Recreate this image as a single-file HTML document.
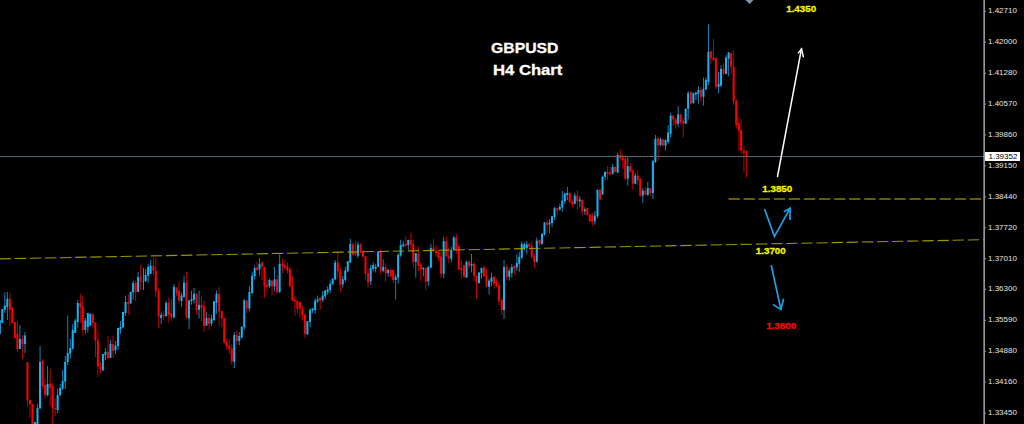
<!DOCTYPE html>
<html><head><meta charset="utf-8"><title>GBPUSD H4 Chart</title>
<style>
html,body{margin:0;padding:0;background:#000;}
body{width:1024px;height:424px;overflow:hidden;position:relative;font-family:"Liberation Sans",sans-serif;}
svg{position:absolute;left:0;top:0;}
.t{position:absolute;white-space:nowrap;line-height:1;}
.ax{font-size:8px;color:#e4e4e4;left:988px;}
.an{font-size:9.8px;font-weight:bold;-webkit-text-stroke:0.3px currentColor;}
.ttl{font-size:15px;font-weight:bold;color:#fff;transform-origin:0 0;-webkit-text-stroke:0.3px #fff;}
</style></head><body>
<svg width="1024" height="424" viewBox="0 0 1024 424">
<line x1="728.5" y1="199" x2="984" y2="199" stroke="#877d00" stroke-width="1.5" stroke-dasharray="11.3 3.78"/>
<g shape-rendering="auto">
<rect x="-0.65" y="320.0" width="0.9" height="14.0" fill="#1390c8"/><rect x="-1.25" y="320.0" width="2" height="14.0" fill="#16b2f4"/>
<rect x="1.87" y="309.0" width="0.9" height="14.0" fill="#1390c8"/><rect x="1.27" y="309.0" width="2" height="14.0" fill="#16b2f4"/>
<rect x="4.38" y="292.5" width="0.9" height="20.5" fill="#1390c8"/><rect x="3.78" y="305.6" width="2" height="4.4" fill="#16b2f4"/>
<rect x="6.90" y="292.0" width="0.9" height="28.0" fill="#1390c8"/><rect x="6.30" y="298.8" width="2" height="8.2" fill="#16b2f4"/>
<rect x="9.41" y="293.0" width="0.9" height="33.0" fill="#d00000"/><rect x="8.81" y="298.8" width="2" height="11.2" fill="#ff0000"/>
<rect x="11.93" y="307.0" width="0.9" height="16.0" fill="#d00000"/><rect x="11.33" y="308.0" width="2" height="15.0" fill="#ff0000"/>
<rect x="14.45" y="322.0" width="0.9" height="16.0" fill="#d00000"/><rect x="13.85" y="322.0" width="2" height="16.0" fill="#ff0000"/>
<rect x="16.96" y="321.0" width="0.9" height="31.0" fill="#d00000"/><rect x="16.36" y="334.0" width="2" height="15.0" fill="#ff0000"/>
<rect x="19.48" y="325.0" width="0.9" height="24.0" fill="#1390c8"/><rect x="18.88" y="339.0" width="2" height="10.0" fill="#16b2f4"/>
<rect x="21.99" y="335.0" width="0.9" height="24.0" fill="#d00000"/><rect x="21.39" y="339.0" width="2" height="5.0" fill="#ff0000"/>
<rect x="24.51" y="332.0" width="0.9" height="21.0" fill="#1390c8"/><rect x="23.91" y="335.5" width="2" height="8.5" fill="#16b2f4"/>
<rect x="27.03" y="362.0" width="0.9" height="44.0" fill="#d00000"/><rect x="26.43" y="362.0" width="2" height="38.4" fill="#ff0000"/>
<rect x="29.54" y="400.0" width="0.9" height="18.0" fill="#d00000"/><rect x="28.94" y="400.0" width="2" height="4.0" fill="#ff0000"/>
<rect x="32.06" y="404.0" width="0.9" height="22.0" fill="#d00000"/><rect x="31.46" y="404.0" width="2" height="22.0" fill="#ff0000"/>
<rect x="34.57" y="422.0" width="0.9" height="4.0" fill="#1390c8"/><rect x="33.97" y="422.0" width="2" height="4.0" fill="#16b2f4"/>
<rect x="37.09" y="404.0" width="0.9" height="22.0" fill="#1390c8"/><rect x="36.49" y="408.0" width="2" height="18.0" fill="#16b2f4"/>
<rect x="39.61" y="346.0" width="0.9" height="62.5" fill="#1390c8"/><rect x="39.01" y="362.0" width="2" height="46.5" fill="#16b2f4"/>
<rect x="42.12" y="359.0" width="0.9" height="29.5" fill="#d00000"/><rect x="41.52" y="361.0" width="2" height="25.0" fill="#ff0000"/>
<rect x="44.64" y="378.5" width="0.9" height="20.0" fill="#d00000"/><rect x="44.04" y="385.0" width="2" height="10.0" fill="#ff0000"/>
<rect x="47.15" y="366.0" width="0.9" height="30.6" fill="#1390c8"/><rect x="46.55" y="384.0" width="2" height="11.0" fill="#16b2f4"/>
<rect x="49.67" y="368.6" width="0.9" height="37.4" fill="#d00000"/><rect x="49.07" y="383.5" width="2" height="4.5" fill="#ff0000"/>
<rect x="52.19" y="383.0" width="0.9" height="43.0" fill="#d00000"/><rect x="51.59" y="386.6" width="2" height="21.4" fill="#ff0000"/>
<rect x="54.70" y="399.0" width="0.9" height="17.0" fill="#d00000"/><rect x="54.10" y="408.0" width="2" height="1.0" fill="#ff0000"/>
<rect x="57.22" y="388.5" width="0.9" height="24.5" fill="#1390c8"/><rect x="56.62" y="395.0" width="2" height="15.0" fill="#16b2f4"/>
<rect x="59.73" y="384.0" width="0.9" height="12.0" fill="#1390c8"/><rect x="59.13" y="388.0" width="2" height="7.0" fill="#16b2f4"/>
<rect x="62.25" y="370.0" width="0.9" height="20.0" fill="#1390c8"/><rect x="61.65" y="381.0" width="2" height="7.5" fill="#16b2f4"/>
<rect x="64.77" y="356.0" width="0.9" height="33.0" fill="#1390c8"/><rect x="64.17" y="362.0" width="2" height="19.6" fill="#16b2f4"/>
<rect x="67.28" y="315.6" width="0.9" height="49.4" fill="#1390c8"/><rect x="66.68" y="353.0" width="2" height="9.0" fill="#16b2f4"/>
<rect x="69.80" y="338.6" width="0.9" height="20.0" fill="#1390c8"/><rect x="69.20" y="348.0" width="2" height="5.6" fill="#16b2f4"/>
<rect x="72.31" y="324.0" width="0.9" height="26.0" fill="#1390c8"/><rect x="71.71" y="330.0" width="2" height="18.6" fill="#16b2f4"/>
<rect x="74.83" y="318.8" width="0.9" height="14.2" fill="#1390c8"/><rect x="74.23" y="320.6" width="2" height="12.4" fill="#16b2f4"/>
<rect x="77.35" y="300.0" width="0.9" height="27.5" fill="#1390c8"/><rect x="76.75" y="303.0" width="2" height="19.0" fill="#16b2f4"/>
<rect x="79.86" y="293.8" width="0.9" height="29.2" fill="#d00000"/><rect x="79.26" y="303.0" width="2" height="4.0" fill="#ff0000"/>
<rect x="82.38" y="296.0" width="0.9" height="39.5" fill="#d00000"/><rect x="81.78" y="306.0" width="2" height="24.0" fill="#ff0000"/>
<rect x="84.89" y="318.0" width="0.9" height="16.0" fill="#1390c8"/><rect x="84.29" y="320.6" width="2" height="9.4" fill="#16b2f4"/>
<rect x="87.41" y="313.0" width="0.9" height="19.5" fill="#1390c8"/><rect x="86.81" y="313.0" width="2" height="14.0" fill="#16b2f4"/>
<rect x="89.93" y="313.8" width="0.9" height="11.8" fill="#1390c8"/><rect x="89.33" y="313.8" width="2" height="11.8" fill="#16b2f4"/>
<rect x="92.44" y="313.8" width="0.9" height="13.7" fill="#d00000"/><rect x="91.84" y="313.8" width="2" height="9.2" fill="#ff0000"/>
<rect x="94.96" y="322.5" width="0.9" height="34.5" fill="#d00000"/><rect x="94.36" y="322.5" width="2" height="18.0" fill="#ff0000"/>
<rect x="97.47" y="330.6" width="0.9" height="46.4" fill="#d00000"/><rect x="96.87" y="340.5" width="2" height="26.3" fill="#ff0000"/>
<rect x="99.99" y="362.0" width="0.9" height="11.6" fill="#d00000"/><rect x="99.39" y="366.8" width="2" height="2.2" fill="#ff0000"/>
<rect x="102.51" y="354.0" width="0.9" height="16.5" fill="#1390c8"/><rect x="101.91" y="354.0" width="2" height="16.5" fill="#16b2f4"/>
<rect x="105.02" y="348.0" width="0.9" height="12.0" fill="#1390c8"/><rect x="104.42" y="351.8" width="2" height="3.2" fill="#16b2f4"/>
<rect x="107.54" y="336.0" width="0.9" height="22.6" fill="#d00000"/><rect x="106.94" y="351.8" width="2" height="6.8" fill="#ff0000"/>
<rect x="110.05" y="340.0" width="0.9" height="18.0" fill="#1390c8"/><rect x="109.45" y="344.0" width="2" height="14.0" fill="#16b2f4"/>
<rect x="112.57" y="336.0" width="0.9" height="22.0" fill="#d00000"/><rect x="111.97" y="344.0" width="2" height="7.0" fill="#ff0000"/>
<rect x="115.09" y="341.0" width="0.9" height="13.0" fill="#1390c8"/><rect x="114.49" y="345.5" width="2" height="5.0" fill="#16b2f4"/>
<rect x="117.60" y="328.0" width="0.9" height="22.0" fill="#1390c8"/><rect x="117.00" y="328.0" width="2" height="18.0" fill="#16b2f4"/>
<rect x="120.12" y="321.0" width="0.9" height="13.0" fill="#1390c8"/><rect x="119.52" y="327.0" width="2" height="2.4" fill="#16b2f4"/>
<rect x="122.63" y="312.0" width="0.9" height="15.5" fill="#1390c8"/><rect x="122.03" y="312.0" width="2" height="15.5" fill="#16b2f4"/>
<rect x="125.15" y="295.6" width="0.9" height="20.4" fill="#1390c8"/><rect x="124.55" y="302.0" width="2" height="11.0" fill="#16b2f4"/>
<rect x="127.85" y="294.4" width="0.9" height="20.4" fill="#d00000"/><rect x="127.25" y="302.0" width="2" height="2.0" fill="#ff0000"/>
<rect x="130.22" y="291.9" width="0.9" height="11.6" fill="#1390c8"/><rect x="129.62" y="291.9" width="2" height="11.6" fill="#16b2f4"/>
<rect x="132.72" y="280.6" width="0.9" height="18.9" fill="#1390c8"/><rect x="132.12" y="283.1" width="2" height="9.4" fill="#16b2f4"/>
<rect x="135.22" y="280.6" width="0.9" height="21.0" fill="#d00000"/><rect x="134.62" y="283.1" width="2" height="8.8" fill="#ff0000"/>
<rect x="137.72" y="271.9" width="0.9" height="20.0" fill="#1390c8"/><rect x="137.12" y="276.9" width="2" height="15.0" fill="#16b2f4"/>
<rect x="140.22" y="265.0" width="0.9" height="25.0" fill="#d00000"/><rect x="139.62" y="276.9" width="2" height="4.4" fill="#ff0000"/>
<rect x="143" y="268.1" width="1" height="21.9" fill="#00c400"/><rect x="142.12" y="281.0" width="2" height="0.8" fill="#00c800"/>
<rect x="145.22" y="268.8" width="0.9" height="13.1" fill="#1390c8"/><rect x="144.62" y="275.0" width="2" height="6.2" fill="#16b2f4"/>
<rect x="147.72" y="263.8" width="0.9" height="18.8" fill="#1390c8"/><rect x="147.12" y="266.9" width="2" height="8.8" fill="#16b2f4"/>
<rect x="150.22" y="260.0" width="0.9" height="13.8" fill="#1390c8"/><rect x="149.62" y="265.6" width="2" height="8.1" fill="#16b2f4"/>
<rect x="152.97" y="257.5" width="0.9" height="17.5" fill="#d00000"/><rect x="152.38" y="265.6" width="2" height="5.0" fill="#ff0000"/>
<rect x="155.35" y="257.5" width="0.9" height="39.4" fill="#d00000"/><rect x="154.75" y="270.6" width="2" height="20.6" fill="#ff0000"/>
<rect x="158.22" y="288.1" width="0.9" height="39.8" fill="#d00000"/><rect x="157.62" y="290.6" width="2" height="26.0" fill="#ff0000"/>
<rect x="160.72" y="311.6" width="0.9" height="12.5" fill="#1390c8"/><rect x="160.12" y="314.8" width="2" height="3.1" fill="#16b2f4"/>
<rect x="163.22" y="311.0" width="0.9" height="8.8" fill="#d00000"/><rect x="162.62" y="314.8" width="2" height="1.2" fill="#ff0000"/>
<rect x="165.72" y="301.0" width="0.9" height="16.2" fill="#1390c8"/><rect x="165.12" y="302.9" width="2" height="13.1" fill="#16b2f4"/>
<rect x="168.35" y="297.2" width="0.9" height="25.6" fill="#d00000"/><rect x="167.75" y="302.9" width="2" height="11.9" fill="#ff0000"/>
<rect x="170.85" y="299.1" width="0.9" height="21.9" fill="#d00000"/><rect x="170.25" y="313.5" width="2" height="3.8" fill="#ff0000"/>
<rect x="173.47" y="283.8" width="0.9" height="34.8" fill="#1390c8"/><rect x="172.88" y="286.9" width="2" height="30.4" fill="#16b2f4"/>
<rect x="176.10" y="287.5" width="0.9" height="8.1" fill="#d00000"/><rect x="175.50" y="287.5" width="2" height="5.0" fill="#ff0000"/>
<rect x="178.60" y="281.9" width="0.9" height="21.6" fill="#d00000"/><rect x="178.00" y="291.2" width="2" height="9.1" fill="#ff0000"/>
<rect x="181.10" y="293.1" width="0.9" height="13.5" fill="#1390c8"/><rect x="180.50" y="295.6" width="2" height="5.4" fill="#16b2f4"/>
<rect x="183.60" y="275.6" width="0.9" height="22.2" fill="#1390c8"/><rect x="183.00" y="282.5" width="2" height="14.4" fill="#16b2f4"/>
<rect x="186.10" y="271.9" width="0.9" height="46.0" fill="#d00000"/><rect x="185.50" y="282.5" width="2" height="35.4" fill="#ff0000"/>
<rect x="188.60" y="300.4" width="0.9" height="28.8" fill="#1390c8"/><rect x="188.00" y="300.4" width="2" height="18.1" fill="#16b2f4"/>
<rect x="191.10" y="290.6" width="0.9" height="14.1" fill="#1390c8"/><rect x="190.50" y="299.1" width="2" height="1.9" fill="#16b2f4"/>
<rect x="193.60" y="288.1" width="0.9" height="15.4" fill="#1390c8"/><rect x="193.00" y="293.8" width="2" height="6.0" fill="#16b2f4"/>
<rect x="196.10" y="293.1" width="0.9" height="21.6" fill="#d00000"/><rect x="195.50" y="293.8" width="2" height="16.0" fill="#ff0000"/>
<rect x="198.60" y="290.6" width="0.9" height="27.9" fill="#1390c8"/><rect x="198.00" y="304.8" width="2" height="5.0" fill="#16b2f4"/>
<rect x="201.10" y="296.6" width="0.9" height="24.4" fill="#d00000"/><rect x="200.50" y="304.8" width="2" height="3.1" fill="#ff0000"/>
<rect x="203.60" y="300.6" width="0.9" height="31.6" fill="#d00000"/><rect x="203.00" y="306.6" width="2" height="19.4" fill="#ff0000"/>
<rect x="206.10" y="312.2" width="0.9" height="13.8" fill="#1390c8"/><rect x="205.50" y="317.9" width="2" height="7.5" fill="#16b2f4"/>
<rect x="208.60" y="314.1" width="0.9" height="15.6" fill="#d00000"/><rect x="208.00" y="317.9" width="2" height="6.2" fill="#ff0000"/>
<rect x="211.10" y="314.8" width="0.9" height="11.2" fill="#1390c8"/><rect x="210.50" y="318.5" width="2" height="5.0" fill="#16b2f4"/>
<rect x="213.60" y="301.2" width="0.9" height="19.1" fill="#1390c8"/><rect x="213.00" y="301.2" width="2" height="19.1" fill="#16b2f4"/>
<rect x="216.10" y="290.6" width="0.9" height="22.9" fill="#1390c8"/><rect x="215.50" y="293.8" width="2" height="9.1" fill="#16b2f4"/>
<rect x="218.72" y="286.9" width="0.9" height="38.5" fill="#d00000"/><rect x="218.12" y="293.8" width="2" height="17.9" fill="#ff0000"/>
<rect x="221.35" y="311.0" width="0.9" height="16.2" fill="#d00000"/><rect x="220.75" y="311.0" width="2" height="7.5" fill="#ff0000"/>
<rect x="223.85" y="317.9" width="0.9" height="25.9" fill="#d00000"/><rect x="223.25" y="317.9" width="2" height="24.6" fill="#ff0000"/>
<rect x="226.35" y="338.8" width="0.9" height="11.2" fill="#d00000"/><rect x="225.75" y="341.9" width="2" height="4.4" fill="#ff0000"/>
<rect x="228.85" y="338.8" width="0.9" height="15.0" fill="#d00000"/><rect x="228.25" y="345.6" width="2" height="3.8" fill="#ff0000"/>
<rect x="231.35" y="344.4" width="0.9" height="20.6" fill="#d00000"/><rect x="230.75" y="348.8" width="2" height="12.5" fill="#ff0000"/>
<rect x="233.85" y="331.9" width="0.9" height="36.2" fill="#1390c8"/><rect x="233.25" y="335.0" width="2" height="26.9" fill="#16b2f4"/>
<rect x="236.35" y="330.4" width="0.9" height="14.4" fill="#d00000"/><rect x="235.75" y="334.8" width="2" height="6.2" fill="#ff0000"/>
<rect x="238.85" y="332.2" width="0.9" height="12.8" fill="#1390c8"/><rect x="238.25" y="336.0" width="2" height="5.0" fill="#16b2f4"/>
<rect x="241.35" y="326.6" width="0.9" height="12.5" fill="#1390c8"/><rect x="240.75" y="326.6" width="2" height="10.6" fill="#16b2f4"/>
<rect x="243.85" y="299.1" width="0.9" height="30.6" fill="#1390c8"/><rect x="243.25" y="300.4" width="2" height="26.9" fill="#16b2f4"/>
<rect x="246.35" y="300.4" width="0.9" height="13.1" fill="#d00000"/><rect x="245.75" y="300.4" width="2" height="8.1" fill="#ff0000"/>
<rect x="248.97" y="286.2" width="0.9" height="24.8" fill="#1390c8"/><rect x="248.38" y="291.9" width="2" height="16.6" fill="#16b2f4"/>
<rect x="251.72" y="271.9" width="0.9" height="21.9" fill="#1390c8"/><rect x="251.12" y="275.6" width="2" height="17.5" fill="#16b2f4"/>
<rect x="254.22" y="265.6" width="0.9" height="13.8" fill="#1390c8"/><rect x="253.62" y="268.1" width="2" height="8.1" fill="#16b2f4"/>
<rect x="256.60" y="261.9" width="0.9" height="8.8" fill="#d00000"/><rect x="256.00" y="267.5" width="2" height="2.8" fill="#ff0000"/>
<rect x="259.10" y="258.1" width="0.9" height="17.5" fill="#1390c8"/><rect x="258.50" y="263.8" width="2" height="5.6" fill="#16b2f4"/>
<rect x="261.60" y="261.9" width="0.9" height="18.1" fill="#d00000"/><rect x="261.00" y="262.5" width="2" height="4.4" fill="#ff0000"/>
<rect x="264.10" y="266.9" width="0.9" height="31.2" fill="#d00000"/><rect x="263.50" y="266.9" width="2" height="19.4" fill="#ff0000"/>
<rect x="266.60" y="279.4" width="0.9" height="12.5" fill="#d00000"/><rect x="266.00" y="285.0" width="2" height="1.9" fill="#ff0000"/>
<rect x="269.10" y="278.8" width="0.9" height="9.4" fill="#1390c8"/><rect x="268.50" y="280.0" width="2" height="6.2" fill="#16b2f4"/>
<rect x="271.60" y="280.6" width="0.9" height="15.0" fill="#d00000"/><rect x="271.00" y="280.6" width="2" height="5.6" fill="#ff0000"/>
<rect x="274.10" y="266.9" width="0.9" height="24.4" fill="#1390c8"/><rect x="273.50" y="279.4" width="2" height="6.9" fill="#16b2f4"/>
<rect x="276.60" y="275.0" width="0.9" height="18.8" fill="#d00000"/><rect x="276.00" y="279.4" width="2" height="12.5" fill="#ff0000"/>
<rect x="279.23" y="254.4" width="0.9" height="38.8" fill="#1390c8"/><rect x="278.62" y="263.8" width="2" height="28.1" fill="#16b2f4"/>
<rect x="281.98" y="258.8" width="0.9" height="14.4" fill="#d00000"/><rect x="281.38" y="263.8" width="2" height="2.5" fill="#ff0000"/>
<rect x="284.48" y="260.0" width="0.9" height="8.8" fill="#d00000"/><rect x="283.88" y="265.0" width="2" height="2.5" fill="#ff0000"/>
<rect x="286.98" y="262.5" width="0.9" height="11.2" fill="#d00000"/><rect x="286.38" y="266.2" width="2" height="4.4" fill="#ff0000"/>
<rect x="289.48" y="267.5" width="0.9" height="19.4" fill="#d00000"/><rect x="288.88" y="269.4" width="2" height="16.9" fill="#ff0000"/>
<rect x="291.98" y="276.2" width="0.9" height="25.0" fill="#d00000"/><rect x="291.38" y="285.0" width="2" height="15.6" fill="#ff0000"/>
<rect x="294.48" y="295.6" width="0.9" height="20.0" fill="#d00000"/><rect x="293.88" y="300.0" width="2" height="1.5" fill="#ff0000"/>
<rect x="296.98" y="300.6" width="0.9" height="13.1" fill="#d00000"/><rect x="296.38" y="300.6" width="2" height="8.1" fill="#ff0000"/>
<rect x="299.48" y="301.9" width="0.9" height="16.2" fill="#d00000"/><rect x="298.88" y="301.9" width="2" height="6.9" fill="#ff0000"/>
<rect x="301.98" y="306.2" width="0.9" height="14.4" fill="#d00000"/><rect x="301.38" y="308.8" width="2" height="6.2" fill="#ff0000"/>
<rect x="304.48" y="314.4" width="0.9" height="23.8" fill="#d00000"/><rect x="303.88" y="314.4" width="2" height="19.4" fill="#ff0000"/>
<rect x="306.98" y="321.2" width="0.9" height="13.8" fill="#1390c8"/><rect x="306.38" y="321.2" width="2" height="13.1" fill="#16b2f4"/>
<rect x="309.60" y="308.1" width="0.9" height="18.8" fill="#1390c8"/><rect x="309.00" y="310.0" width="2" height="11.9" fill="#16b2f4"/>
<rect x="312.23" y="307.5" width="0.9" height="5.6" fill="#1390c8"/><rect x="311.62" y="308.8" width="2" height="1.9" fill="#16b2f4"/>
<rect x="314.73" y="298.1" width="0.9" height="15.6" fill="#1390c8"/><rect x="314.12" y="300.6" width="2" height="9.4" fill="#16b2f4"/>
<rect x="317.23" y="295.6" width="0.9" height="7.5" fill="#1390c8"/><rect x="316.62" y="299.4" width="2" height="1.9" fill="#16b2f4"/>
<rect x="319.73" y="297.5" width="0.9" height="12.5" fill="#d00000"/><rect x="319.12" y="297.5" width="2" height="3.1" fill="#ff0000"/>
<rect x="322.23" y="291.2" width="0.9" height="10.6" fill="#1390c8"/><rect x="321.62" y="295.6" width="2" height="4.4" fill="#16b2f4"/>
<rect x="324.73" y="290.0" width="0.9" height="9.4" fill="#1390c8"/><rect x="324.12" y="290.6" width="2" height="5.6" fill="#16b2f4"/>
<rect x="327.23" y="286.2" width="0.9" height="8.8" fill="#1390c8"/><rect x="326.62" y="289.4" width="2" height="2.5" fill="#16b2f4"/>
<rect x="329.73" y="280.6" width="0.9" height="12.5" fill="#1390c8"/><rect x="329.12" y="283.8" width="2" height="6.2" fill="#16b2f4"/>
<rect x="332.23" y="278.1" width="0.9" height="6.2" fill="#1390c8"/><rect x="331.62" y="278.8" width="2" height="5.6" fill="#16b2f4"/>
<rect x="334.73" y="260.0" width="0.9" height="20.0" fill="#1390c8"/><rect x="334.12" y="262.5" width="2" height="16.9" fill="#16b2f4"/>
<rect x="337.35" y="251.6" width="0.9" height="26.5" fill="#d00000"/><rect x="336.75" y="262.5" width="2" height="8.8" fill="#ff0000"/>
<rect x="339.85" y="267.5" width="0.9" height="25.0" fill="#d00000"/><rect x="339.25" y="270.6" width="2" height="14.4" fill="#ff0000"/>
<rect x="342.35" y="275.6" width="0.9" height="11.9" fill="#1390c8"/><rect x="341.75" y="279.4" width="2" height="5.0" fill="#16b2f4"/>
<rect x="344.85" y="266.9" width="0.9" height="15.0" fill="#1390c8"/><rect x="344.25" y="270.6" width="2" height="9.4" fill="#16b2f4"/>
<rect x="347.35" y="261.2" width="0.9" height="11.2" fill="#1390c8"/><rect x="346.75" y="261.2" width="2" height="10.0" fill="#16b2f4"/>
<rect x="349.85" y="238.8" width="0.9" height="23.8" fill="#1390c8"/><rect x="349.25" y="243.8" width="2" height="18.8" fill="#16b2f4"/>
<rect x="352.48" y="242.5" width="0.9" height="13.1" fill="#d00000"/><rect x="351.88" y="244.4" width="2" height="10.6" fill="#ff0000"/>
<rect x="354.98" y="241.2" width="0.9" height="15.0" fill="#d00000"/><rect x="354.38" y="253.1" width="2" height="1.2" fill="#ff0000"/>
<rect x="357.48" y="241.9" width="0.9" height="16.2" fill="#1390c8"/><rect x="356.88" y="244.4" width="2" height="11.2" fill="#16b2f4"/>
<rect x="360.10" y="243.1" width="0.9" height="10.0" fill="#d00000"/><rect x="359.50" y="244.4" width="2" height="8.1" fill="#ff0000"/>
<rect x="362.60" y="250.0" width="0.9" height="7.5" fill="#d00000"/><rect x="362.00" y="251.2" width="2" height="5.6" fill="#ff0000"/>
<rect x="365.10" y="256.2" width="0.9" height="24.4" fill="#d00000"/><rect x="364.50" y="256.2" width="2" height="17.5" fill="#ff0000"/>
<rect x="367.60" y="268.8" width="0.9" height="18.8" fill="#d00000"/><rect x="367.00" y="273.1" width="2" height="9.4" fill="#ff0000"/>
<rect x="370.23" y="265.0" width="0.9" height="20.0" fill="#1390c8"/><rect x="369.62" y="268.1" width="2" height="13.1" fill="#16b2f4"/>
<rect x="372.73" y="261.9" width="0.9" height="9.4" fill="#1390c8"/><rect x="372.12" y="265.0" width="2" height="3.8" fill="#16b2f4"/>
<rect x="375.23" y="263.8" width="0.9" height="8.8" fill="#1390c8"/><rect x="374.62" y="266.9" width="2" height="1.9" fill="#16b2f4"/>
<rect x="377.73" y="251.2" width="0.9" height="16.2" fill="#1390c8"/><rect x="377.12" y="251.9" width="2" height="15.0" fill="#16b2f4"/>
<rect x="380.23" y="249.4" width="0.9" height="25.0" fill="#d00000"/><rect x="379.62" y="251.9" width="2" height="18.8" fill="#ff0000"/>
<rect x="382.73" y="259.4" width="0.9" height="13.1" fill="#1390c8"/><rect x="382.12" y="266.9" width="2" height="3.8" fill="#16b2f4"/>
<rect x="385.23" y="263.1" width="0.9" height="18.8" fill="#d00000"/><rect x="384.62" y="267.5" width="2" height="5.6" fill="#ff0000"/>
<rect x="387.73" y="268.8" width="0.9" height="8.1" fill="#1390c8"/><rect x="387.12" y="270.0" width="2" height="3.1" fill="#16b2f4"/>
<rect x="390.23" y="268.1" width="0.9" height="8.8" fill="#d00000"/><rect x="389.62" y="270.0" width="2" height="6.2" fill="#ff0000"/>
<rect x="392.73" y="270.0" width="0.9" height="13.1" fill="#d00000"/><rect x="392.12" y="270.0" width="2" height="10.0" fill="#ff0000"/>
<rect x="395.23" y="274.4" width="0.9" height="25.0" fill="#1390c8"/><rect x="394.62" y="276.9" width="2" height="3.1" fill="#16b2f4"/>
<rect x="397.73" y="253.1" width="0.9" height="30.6" fill="#1390c8"/><rect x="397.12" y="255.0" width="2" height="22.5" fill="#16b2f4"/>
<rect x="400.23" y="239.8" width="0.9" height="17.1" fill="#1390c8"/><rect x="399.62" y="245.0" width="2" height="10.6" fill="#16b2f4"/>
<rect x="402.85" y="241.2" width="0.9" height="6.2" fill="#1390c8"/><rect x="402.25" y="244.4" width="2" height="1.9" fill="#16b2f4"/>
<rect x="405.35" y="236.2" width="0.9" height="10.6" fill="#d00000"/><rect x="404.75" y="243.8" width="2" height="1.9" fill="#ff0000"/>
<rect x="407.85" y="239.4" width="0.9" height="10.6" fill="#1390c8"/><rect x="407.25" y="240.0" width="2" height="5.0" fill="#16b2f4"/>
<rect x="410.35" y="233.1" width="0.9" height="16.9" fill="#d00000"/><rect x="409.75" y="240.0" width="2" height="4.4" fill="#ff0000"/>
<rect x="412.85" y="240.0" width="0.9" height="27.5" fill="#d00000"/><rect x="412.25" y="243.8" width="2" height="18.1" fill="#ff0000"/>
<rect x="415.35" y="253.1" width="0.9" height="24.4" fill="#1390c8"/><rect x="414.75" y="253.1" width="2" height="8.8" fill="#16b2f4"/>
<rect x="417.85" y="246.2" width="0.9" height="25.0" fill="#d00000"/><rect x="417.25" y="253.8" width="2" height="11.9" fill="#ff0000"/>
<rect x="420.35" y="262.5" width="0.9" height="18.8" fill="#d00000"/><rect x="419.75" y="265.0" width="2" height="4.4" fill="#ff0000"/>
<rect x="422.85" y="267.5" width="0.9" height="8.8" fill="#1390c8"/><rect x="422.25" y="267.8" width="2" height="1.5" fill="#16b2f4"/>
<rect x="425.35" y="268.1" width="0.9" height="21.9" fill="#d00000"/><rect x="424.75" y="268.1" width="2" height="13.8" fill="#ff0000"/>
<rect x="427.85" y="265.6" width="0.9" height="20.6" fill="#1390c8"/><rect x="427.25" y="266.9" width="2" height="14.4" fill="#16b2f4"/>
<rect x="430.48" y="243.8" width="0.9" height="24.4" fill="#1390c8"/><rect x="429.88" y="248.1" width="2" height="19.4" fill="#16b2f4"/>
<rect x="433.10" y="238.8" width="0.9" height="13.1" fill="#d00000"/><rect x="432.50" y="247.5" width="2" height="2.5" fill="#ff0000"/>
<rect x="435.60" y="245.0" width="0.9" height="11.9" fill="#d00000"/><rect x="435.00" y="250.6" width="2" height="2.5" fill="#ff0000"/>
<rect x="438.10" y="251.2" width="0.9" height="10.0" fill="#d00000"/><rect x="437.50" y="251.9" width="2" height="5.6" fill="#ff0000"/>
<rect x="440.60" y="251.9" width="0.9" height="26.2" fill="#d00000"/><rect x="440.00" y="256.9" width="2" height="16.9" fill="#ff0000"/>
<rect x="443.23" y="236.9" width="0.9" height="41.2" fill="#1390c8"/><rect x="442.62" y="241.2" width="2" height="32.5" fill="#16b2f4"/>
<rect x="445.85" y="236.2" width="0.9" height="21.2" fill="#d00000"/><rect x="445.25" y="241.2" width="2" height="15.0" fill="#ff0000"/>
<rect x="448.35" y="248.1" width="0.9" height="15.0" fill="#d00000"/><rect x="447.75" y="256.2" width="2" height="1.9" fill="#ff0000"/>
<rect x="450.85" y="246.9" width="0.9" height="15.6" fill="#1390c8"/><rect x="450.25" y="250.0" width="2" height="8.8" fill="#16b2f4"/>
<rect x="453.35" y="236.0" width="0.9" height="14.6" fill="#1390c8"/><rect x="452.75" y="237.5" width="2" height="12.5" fill="#16b2f4"/>
<rect x="455.85" y="233.8" width="0.9" height="20.0" fill="#d00000"/><rect x="455.25" y="237.5" width="2" height="12.5" fill="#ff0000"/>
<rect x="458.35" y="245.6" width="0.9" height="24.4" fill="#d00000"/><rect x="457.75" y="246.2" width="2" height="23.1" fill="#ff0000"/>
<rect x="460.85" y="260.6" width="0.9" height="18.1" fill="#d00000"/><rect x="460.25" y="268.1" width="2" height="1.9" fill="#ff0000"/>
<rect x="463.60" y="265.0" width="0.9" height="12.5" fill="#d00000"/><rect x="463.00" y="265.0" width="2" height="11.9" fill="#ff0000"/>
<rect x="466.10" y="260.6" width="0.9" height="16.9" fill="#1390c8"/><rect x="465.50" y="261.9" width="2" height="15.6" fill="#16b2f4"/>
<rect x="468.60" y="260.0" width="0.9" height="8.1" fill="#d00000"/><rect x="468.00" y="261.9" width="2" height="3.8" fill="#ff0000"/>
<rect x="471.10" y="254.0" width="0.9" height="18.5" fill="#1390c8"/><rect x="470.50" y="264.0" width="2" height="1.8" fill="#16b2f4"/>
<rect x="473.60" y="261.9" width="0.9" height="19.4" fill="#d00000"/><rect x="473.00" y="263.8" width="2" height="11.9" fill="#ff0000"/>
<rect x="476.10" y="275.6" width="0.9" height="23.1" fill="#d00000"/><rect x="475.50" y="275.6" width="2" height="6.9" fill="#ff0000"/>
<rect x="478.60" y="272.5" width="0.9" height="11.2" fill="#1390c8"/><rect x="478.00" y="272.5" width="2" height="10.6" fill="#16b2f4"/>
<rect x="481.10" y="267.5" width="0.9" height="11.2" fill="#1390c8"/><rect x="480.50" y="268.1" width="2" height="5.0" fill="#16b2f4"/>
<rect x="483.60" y="265.6" width="0.9" height="10.6" fill="#d00000"/><rect x="483.00" y="267.5" width="2" height="8.8" fill="#ff0000"/>
<rect x="486.10" y="268.8" width="0.9" height="18.1" fill="#d00000"/><rect x="485.50" y="275.6" width="2" height="11.2" fill="#ff0000"/>
<rect x="488.60" y="278.8" width="0.9" height="15.6" fill="#1390c8"/><rect x="488.00" y="280.6" width="2" height="6.2" fill="#16b2f4"/>
<rect x="491.10" y="272.5" width="0.9" height="13.8" fill="#1390c8"/><rect x="490.50" y="277.5" width="2" height="4.4" fill="#16b2f4"/>
<rect x="493.60" y="276.2" width="0.9" height="12.5" fill="#d00000"/><rect x="493.00" y="276.9" width="2" height="6.9" fill="#ff0000"/>
<rect x="496.10" y="278.8" width="0.9" height="8.1" fill="#d00000"/><rect x="495.50" y="281.9" width="2" height="4.4" fill="#ff0000"/>
<rect x="498.60" y="281.9" width="0.9" height="23.1" fill="#d00000"/><rect x="498.00" y="285.6" width="2" height="15.6" fill="#ff0000"/>
<rect x="501.35" y="297.5" width="0.9" height="17.5" fill="#d00000"/><rect x="500.75" y="300.0" width="2" height="10.0" fill="#ff0000"/>
<rect x="503.60" y="260.0" width="0.9" height="58.8" fill="#1390c8"/><rect x="503.00" y="266.9" width="2" height="43.1" fill="#16b2f4"/>
<rect x="506.35" y="264.4" width="0.9" height="15.6" fill="#d00000"/><rect x="505.75" y="266.9" width="2" height="10.0" fill="#ff0000"/>
<rect x="508.85" y="268.1" width="0.9" height="12.5" fill="#1390c8"/><rect x="508.25" y="270.6" width="2" height="6.2" fill="#16b2f4"/>
<rect x="511.35" y="263.8" width="0.9" height="13.8" fill="#1390c8"/><rect x="510.75" y="266.9" width="2" height="6.2" fill="#16b2f4"/>
<rect x="513.85" y="265.0" width="0.9" height="9.4" fill="#d00000"/><rect x="513.25" y="266.2" width="2" height="2.5" fill="#ff0000"/>
<rect x="516.35" y="253.8" width="0.9" height="16.9" fill="#1390c8"/><rect x="515.75" y="263.1" width="2" height="4.4" fill="#16b2f4"/>
<rect x="518.85" y="251.9" width="0.9" height="20.0" fill="#1390c8"/><rect x="518.25" y="256.9" width="2" height="6.9" fill="#16b2f4"/>
<rect x="521.35" y="241.2" width="0.9" height="18.1" fill="#1390c8"/><rect x="520.75" y="243.8" width="2" height="13.8" fill="#16b2f4"/>
<rect x="523.85" y="242.5" width="0.9" height="8.1" fill="#1390c8"/><rect x="523.25" y="244.4" width="2" height="4.4" fill="#16b2f4"/>
<rect x="526.35" y="241.0" width="0.9" height="13.4" fill="#1390c8"/><rect x="525.75" y="244.4" width="2" height="3.8" fill="#16b2f4"/>
<rect x="528.85" y="243.1" width="0.9" height="6.9" fill="#d00000"/><rect x="528.25" y="243.8" width="2" height="3.1" fill="#ff0000"/>
<rect x="531.35" y="241.0" width="0.9" height="17.8" fill="#d00000"/><rect x="530.75" y="246.2" width="2" height="10.6" fill="#ff0000"/>
<rect x="533.85" y="253.8" width="0.9" height="14.4" fill="#d00000"/><rect x="533.25" y="256.2" width="2" height="5.6" fill="#ff0000"/>
<rect x="536.35" y="237.5" width="0.9" height="25.0" fill="#1390c8"/><rect x="535.75" y="240.6" width="2" height="21.2" fill="#16b2f4"/>
<rect x="539.10" y="239.4" width="0.9" height="6.2" fill="#d00000"/><rect x="538.50" y="240.0" width="2" height="3.8" fill="#ff0000"/>
<rect x="541.60" y="233.1" width="0.9" height="11.9" fill="#1390c8"/><rect x="541.00" y="233.8" width="2" height="10.0" fill="#16b2f4"/>
<rect x="544.10" y="221.9" width="0.9" height="13.8" fill="#1390c8"/><rect x="543.50" y="222.5" width="2" height="11.9" fill="#16b2f4"/>
<rect x="546.60" y="220.0" width="0.9" height="12.5" fill="#d00000"/><rect x="546.00" y="222.5" width="2" height="2.5" fill="#ff0000"/>
<rect x="549.10" y="219.4" width="0.9" height="13.8" fill="#1390c8"/><rect x="548.50" y="222.5" width="2" height="1.9" fill="#16b2f4"/>
<rect x="551.60" y="216.2" width="0.9" height="11.2" fill="#1390c8"/><rect x="551.00" y="216.2" width="2" height="6.9" fill="#16b2f4"/>
<rect x="554.10" y="206.9" width="0.9" height="13.1" fill="#1390c8"/><rect x="553.50" y="208.1" width="2" height="8.8" fill="#16b2f4"/>
<rect x="556.85" y="208.1" width="0.9" height="6.9" fill="#d00000"/><rect x="556.25" y="208.1" width="2" height="2.5" fill="#ff0000"/>
<rect x="559.35" y="203.8" width="0.9" height="6.9" fill="#1390c8"/><rect x="558.75" y="206.9" width="2" height="2.5" fill="#16b2f4"/>
<rect x="561.85" y="191.0" width="0.9" height="20.9" fill="#1390c8"/><rect x="561.25" y="200.6" width="2" height="6.9" fill="#16b2f4"/>
<rect x="564.35" y="192.5" width="0.9" height="11.2" fill="#1390c8"/><rect x="563.75" y="193.8" width="2" height="7.5" fill="#16b2f4"/>
<rect x="566.85" y="186.9" width="0.9" height="13.1" fill="#1390c8"/><rect x="566.25" y="193.1" width="2" height="1.9" fill="#16b2f4"/>
<rect x="569.35" y="192.5" width="0.9" height="11.2" fill="#d00000"/><rect x="568.75" y="192.9" width="2" height="9.0" fill="#ff0000"/>
<rect x="571.85" y="199.4" width="0.9" height="8.1" fill="#d00000"/><rect x="571.25" y="201.2" width="2" height="3.1" fill="#ff0000"/>
<rect x="574.35" y="193.1" width="0.9" height="11.2" fill="#1390c8"/><rect x="573.75" y="195.6" width="2" height="8.1" fill="#16b2f4"/>
<rect x="576.85" y="190.0" width="0.9" height="20.0" fill="#d00000"/><rect x="576.25" y="195.6" width="2" height="5.6" fill="#ff0000"/>
<rect x="579.35" y="196.2" width="0.9" height="11.2" fill="#1390c8"/><rect x="578.75" y="199.4" width="2" height="1.9" fill="#16b2f4"/>
<rect x="581.85" y="199.4" width="0.9" height="16.2" fill="#d00000"/><rect x="581.25" y="200.0" width="2" height="11.2" fill="#ff0000"/>
<rect x="584.35" y="207.2" width="0.9" height="7.8" fill="#1390c8"/><rect x="583.75" y="209.4" width="2" height="1.9" fill="#16b2f4"/>
<rect x="586.85" y="208.1" width="0.9" height="7.5" fill="#d00000"/><rect x="586.25" y="208.1" width="2" height="6.9" fill="#ff0000"/>
<rect x="589.35" y="214.4" width="0.9" height="7.5" fill="#d00000"/><rect x="588.75" y="214.4" width="2" height="6.9" fill="#ff0000"/>
<rect x="591.85" y="212.5" width="0.9" height="13.8" fill="#d00000"/><rect x="591.25" y="215.6" width="2" height="6.2" fill="#ff0000"/>
<rect x="594.35" y="211.2" width="0.9" height="13.8" fill="#1390c8"/><rect x="593.75" y="215.6" width="2" height="5.6" fill="#16b2f4"/>
<rect x="597.10" y="189.4" width="0.9" height="28.8" fill="#1390c8"/><rect x="596.50" y="190.0" width="2" height="26.2" fill="#16b2f4"/>
<rect x="599.60" y="188.8" width="0.9" height="11.9" fill="#d00000"/><rect x="599.00" y="190.0" width="2" height="9.4" fill="#ff0000"/>
<rect x="602.10" y="175.6" width="0.9" height="19.4" fill="#1390c8"/><rect x="601.50" y="176.9" width="2" height="17.5" fill="#16b2f4"/>
<rect x="604.60" y="171.2" width="0.9" height="8.8" fill="#1390c8"/><rect x="604.00" y="171.9" width="2" height="5.0" fill="#16b2f4"/>
<rect x="607.10" y="166.2" width="0.9" height="13.8" fill="#d00000"/><rect x="606.50" y="171.9" width="2" height="1.9" fill="#ff0000"/>
<rect x="609.60" y="166.9" width="0.9" height="8.1" fill="#d00000"/><rect x="609.00" y="172.5" width="2" height="1.9" fill="#ff0000"/>
<rect x="612.23" y="163.8" width="0.9" height="10.6" fill="#1390c8"/><rect x="611.62" y="166.9" width="2" height="6.9" fill="#16b2f4"/>
<rect x="614.73" y="166.2" width="0.9" height="6.2" fill="#d00000"/><rect x="614.12" y="166.9" width="2" height="5.0" fill="#ff0000"/>
<rect x="617.23" y="152.5" width="0.9" height="20.6" fill="#1390c8"/><rect x="616.62" y="155.0" width="2" height="17.5" fill="#16b2f4"/>
<rect x="619.85" y="149.4" width="0.9" height="11.9" fill="#d00000"/><rect x="619.25" y="155.0" width="2" height="3.1" fill="#ff0000"/>
<rect x="622.35" y="153.8" width="0.9" height="15.0" fill="#d00000"/><rect x="621.75" y="157.5" width="2" height="2.5" fill="#ff0000"/>
<rect x="624.85" y="154.4" width="0.9" height="26.2" fill="#d00000"/><rect x="624.25" y="158.8" width="2" height="20.0" fill="#ff0000"/>
<rect x="627.35" y="156.9" width="0.9" height="28.8" fill="#1390c8"/><rect x="626.75" y="166.2" width="2" height="12.5" fill="#16b2f4"/>
<rect x="629.85" y="163.1" width="0.9" height="9.4" fill="#d00000"/><rect x="629.25" y="166.2" width="2" height="5.0" fill="#ff0000"/>
<rect x="632.35" y="168.8" width="0.9" height="20.6" fill="#d00000"/><rect x="631.75" y="170.6" width="2" height="13.1" fill="#ff0000"/>
<rect x="634.85" y="173.1" width="0.9" height="11.2" fill="#1390c8"/><rect x="634.25" y="175.6" width="2" height="8.1" fill="#16b2f4"/>
<rect x="637.35" y="170.0" width="0.9" height="15.0" fill="#d00000"/><rect x="636.75" y="175.6" width="2" height="4.4" fill="#ff0000"/>
<rect x="639.85" y="178.1" width="0.9" height="18.8" fill="#d00000"/><rect x="639.25" y="178.8" width="2" height="16.9" fill="#ff0000"/>
<rect x="642.35" y="188.1" width="0.9" height="15.0" fill="#1390c8"/><rect x="641.75" y="190.6" width="2" height="5.0" fill="#16b2f4"/>
<rect x="644.85" y="186.9" width="0.9" height="8.1" fill="#d00000"/><rect x="644.25" y="190.6" width="2" height="3.8" fill="#ff0000"/>
<rect x="647.35" y="181.9" width="0.9" height="13.8" fill="#1390c8"/><rect x="646.75" y="188.1" width="2" height="6.9" fill="#16b2f4"/>
<rect x="649.85" y="187.5" width="0.9" height="8.8" fill="#d00000"/><rect x="649.25" y="188.1" width="2" height="5.0" fill="#ff0000"/>
<rect x="652.48" y="160.0" width="0.9" height="38.8" fill="#1390c8"/><rect x="651.88" y="161.2" width="2" height="31.9" fill="#16b2f4"/>
<rect x="654.98" y="135.0" width="0.9" height="28.1" fill="#1390c8"/><rect x="654.38" y="138.8" width="2" height="23.1" fill="#16b2f4"/>
<rect x="657.60" y="137.5" width="0.9" height="23.1" fill="#d00000"/><rect x="657.00" y="138.1" width="2" height="6.9" fill="#ff0000"/>
<rect x="660.10" y="137.5" width="0.9" height="8.8" fill="#1390c8"/><rect x="659.50" y="139.4" width="2" height="5.6" fill="#16b2f4"/>
<rect x="662.60" y="139.4" width="0.9" height="6.9" fill="#d00000"/><rect x="662.00" y="139.4" width="2" height="6.2" fill="#ff0000"/>
<rect x="665.10" y="139.4" width="0.9" height="11.2" fill="#1390c8"/><rect x="664.50" y="140.0" width="2" height="5.6" fill="#16b2f4"/>
<rect x="667.73" y="125.0" width="0.9" height="18.8" fill="#1390c8"/><rect x="667.12" y="132.5" width="2" height="9.4" fill="#16b2f4"/>
<rect x="670.23" y="113.1" width="0.9" height="24.4" fill="#1390c8"/><rect x="669.62" y="115.6" width="2" height="18.1" fill="#16b2f4"/>
<rect x="672.73" y="115.6" width="0.9" height="10.6" fill="#d00000"/><rect x="672.12" y="115.6" width="2" height="3.8" fill="#ff0000"/>
<rect x="675.23" y="118.1" width="0.9" height="10.6" fill="#d00000"/><rect x="674.62" y="119.4" width="2" height="5.0" fill="#ff0000"/>
<rect x="677.73" y="106.2" width="0.9" height="20.6" fill="#1390c8"/><rect x="677.12" y="114.4" width="2" height="9.4" fill="#16b2f4"/>
<rect x="680.23" y="113.8" width="0.9" height="10.6" fill="#d00000"/><rect x="679.62" y="114.4" width="2" height="7.5" fill="#ff0000"/>
<rect x="682.73" y="117.5" width="0.9" height="20.0" fill="#d00000"/><rect x="682.12" y="121.2" width="2" height="2.5" fill="#ff0000"/>
<rect x="685.23" y="108.1" width="0.9" height="15.6" fill="#1390c8"/><rect x="684.62" y="108.8" width="2" height="15.0" fill="#16b2f4"/>
<rect x="687.73" y="91.2" width="0.9" height="28.1" fill="#1390c8"/><rect x="687.12" y="93.1" width="2" height="15.6" fill="#16b2f4"/>
<rect x="690.48" y="91.2" width="0.9" height="13.1" fill="#d00000"/><rect x="689.88" y="91.9" width="2" height="11.9" fill="#ff0000"/>
<rect x="692.98" y="92.5" width="0.9" height="11.2" fill="#1390c8"/><rect x="692.38" y="93.1" width="2" height="10.0" fill="#16b2f4"/>
<rect x="695.48" y="91.9" width="0.9" height="8.1" fill="#1390c8"/><rect x="694.88" y="92.5" width="2" height="1.9" fill="#16b2f4"/>
<rect x="697.98" y="86.2" width="0.9" height="17.5" fill="#1390c8"/><rect x="697.38" y="90.0" width="2" height="3.8" fill="#16b2f4"/>
<rect x="700.48" y="86.9" width="0.9" height="15.0" fill="#d00000"/><rect x="699.88" y="90.0" width="2" height="6.9" fill="#ff0000"/>
<rect x="702.98" y="77.5" width="0.9" height="28.1" fill="#1390c8"/><rect x="702.38" y="88.8" width="2" height="8.1" fill="#16b2f4"/>
<rect x="705.48" y="77.5" width="0.9" height="12.5" fill="#1390c8"/><rect x="704.88" y="80.0" width="2" height="9.4" fill="#16b2f4"/>
<rect x="707.98" y="24.4" width="0.9" height="60.6" fill="#1390c8"/><rect x="707.38" y="51.9" width="2" height="30.0" fill="#16b2f4"/>
<rect x="710.48" y="50.6" width="0.9" height="13.8" fill="#d00000"/><rect x="709.88" y="51.2" width="2" height="6.9" fill="#ff0000"/>
<rect x="712.98" y="38.8" width="0.9" height="22.5" fill="#d00000"/><rect x="712.38" y="57.5" width="2" height="2.5" fill="#ff0000"/>
<rect x="715.48" y="57.5" width="0.9" height="31.9" fill="#d00000"/><rect x="714.88" y="58.1" width="2" height="28.8" fill="#ff0000"/>
<rect x="718.10" y="71.9" width="0.9" height="21.2" fill="#1390c8"/><rect x="717.50" y="83.8" width="2" height="3.1" fill="#16b2f4"/>
<rect x="720.60" y="65.0" width="0.9" height="21.9" fill="#1390c8"/><rect x="720.00" y="68.8" width="2" height="16.9" fill="#16b2f4"/>
<rect x="723.10" y="63.1" width="0.9" height="11.9" fill="#d00000"/><rect x="722.50" y="68.8" width="2" height="5.0" fill="#ff0000"/>
<rect x="725.60" y="55.0" width="0.9" height="19.4" fill="#1390c8"/><rect x="725.00" y="57.5" width="2" height="16.2" fill="#16b2f4"/>
<rect x="728.23" y="51.9" width="0.9" height="24.4" fill="#1390c8"/><rect x="727.62" y="52.5" width="2" height="6.2" fill="#16b2f4"/>
<rect x="730.73" y="53.1" width="0.9" height="20.6" fill="#d00000"/><rect x="730.12" y="53.1" width="2" height="13.8" fill="#ff0000"/>
<rect x="733.23" y="50.0" width="0.9" height="55.0" fill="#d00000"/><rect x="732.62" y="66.9" width="2" height="34.4" fill="#ff0000"/>
<rect x="735.85" y="99.4" width="0.9" height="29.4" fill="#d00000"/><rect x="735.25" y="100.6" width="2" height="24.4" fill="#ff0000"/>
<rect x="738.48" y="116.9" width="0.9" height="33.8" fill="#d00000"/><rect x="737.88" y="123.1" width="2" height="7.5" fill="#ff0000"/>
<rect x="740.73" y="118.8" width="0.9" height="35.6" fill="#d00000"/><rect x="740.12" y="130.0" width="2" height="20.6" fill="#ff0000"/>
<rect x="743.48" y="145.6" width="0.9" height="26.9" fill="#d00000"/><rect x="742.88" y="150.6" width="2" height="2.5" fill="#ff0000"/>
<rect x="745.98" y="150.6" width="0.9" height="26.9" fill="#d00000"/><rect x="745.38" y="152.5" width="2" height="3.8" fill="#ff0000"/>
</g>
<rect x="0" y="156" width="984" height="1" fill="#57636e"/>
<line x1="-0.4" y1="258.87" x2="984" y2="239.67" stroke="#aaa200" stroke-width="1.1" stroke-dasharray="11.28 3.85" opacity="0.92"/>
<rect x="983.3" y="0" width="1.7" height="424" fill="#949494"/>
<rect x="985" y="10.9" width="0.9" height="1" fill="#aaa"/>
<rect x="985" y="41.8" width="0.9" height="1" fill="#aaa"/>
<rect x="985" y="72.7" width="0.9" height="1" fill="#aaa"/>
<rect x="985" y="103.6" width="0.9" height="1" fill="#aaa"/>
<rect x="985" y="134.5" width="0.9" height="1" fill="#aaa"/>
<rect x="985" y="165.4" width="0.9" height="1" fill="#aaa"/>
<rect x="985" y="196.3" width="0.9" height="1" fill="#aaa"/>
<rect x="985" y="227.2" width="0.9" height="1" fill="#aaa"/>
<rect x="985" y="258.1" width="0.9" height="1" fill="#aaa"/>
<rect x="985" y="289.0" width="0.9" height="1" fill="#aaa"/>
<rect x="985" y="319.9" width="0.9" height="1" fill="#aaa"/>
<rect x="985" y="350.8" width="0.9" height="1" fill="#aaa"/>
<rect x="985" y="381.7" width="0.9" height="1" fill="#aaa"/>
<rect x="985" y="412.6" width="0.9" height="1" fill="#aaa"/>
<path d="M745.5 0 L753.5 0 L749.5 3.9 Z" fill="#8492a6"/>
<g stroke="#fff" stroke-width="1.5" fill="none" stroke-linecap="round"><path d="M777.5 176.5 L801.5 48.7"/><path d="M798.4 52.9 L801.5 48.9 L803.3 56.7"/></g>
<g stroke="#1c9fe4" stroke-width="1.7" fill="none" stroke-linecap="round"><path d="M764.8 209.8 L774.4 236.4 L790.1 208.4"/><path d="M784.4 211.4 L790.1 208.3 L790 219.3"/><path d="M771.3 265.8 L780.9 309.4"/><path d="M773.6 304.9 L780.9 309.5 L783.5 299.3"/></g>
</svg>
<div class="t ax" style="top:7.3px">1.42710</div>
<div class="t ax" style="top:38.2px">1.42000</div>
<div class="t ax" style="top:69.1px">1.41280</div>
<div class="t ax" style="top:100.0px">1.40570</div>
<div class="t ax" style="top:130.9px">1.39860</div>
<div class="t ax" style="top:161.8px">1.39150</div>
<div class="t ax" style="top:192.7px">1.38440</div>
<div class="t ax" style="top:223.6px">1.37720</div>
<div class="t ax" style="top:254.5px">1.37010</div>
<div class="t ax" style="top:285.4px">1.36300</div>
<div class="t ax" style="top:316.3px">1.35590</div>
<div class="t ax" style="top:347.2px">1.34880</div>
<div class="t ax" style="top:378.1px">1.34160</div>
<div class="t ax" style="top:409.0px">1.33450</div>
<div class="t" style="left:985px;top:152.2px;width:35px;height:8.6px;background:#fff;"></div>
<div class="t" style="left:988.5px;top:153.4px;font-size:8px;color:#000;">1.39352</div>
<div class="t an" style="left:786.2px;top:4px;color:#f4f400;">1.4350</div>
<div class="t an" style="left:762.3px;top:183.7px;color:#f4f400;">1.3850</div>
<div class="t an" style="left:755.8px;top:245.6px;color:#f4f400;">1.3700</div>
<div class="t an" style="left:766.2px;top:321.4px;color:#ff0000;">1.3600</div>
<div class="t ttl" style="left:490.6px;top:40px;transform:scale(1.052,1);">GBPUSD</div>
<div class="t ttl" style="left:493px;top:62.3px;transform:scale(1.11,1);">H4 Chart</div>
</body></html>
